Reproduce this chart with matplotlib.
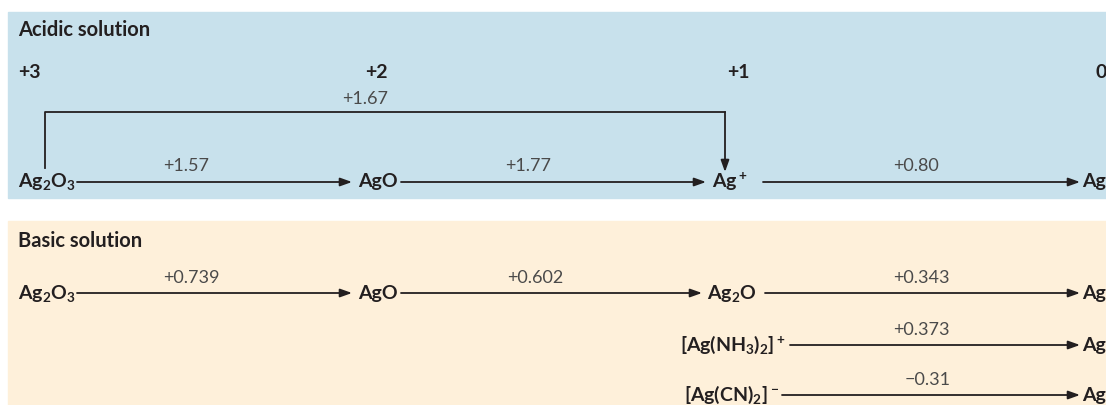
import matplotlib
matplotlib.use("Agg")
import matplotlib.pyplot as plt
from matplotlib.patches import Rectangle

plt.rcParams["font.family"] = ["Lato", "DejaVu Sans"]
plt.rcParams["mathtext.default"] = "regular"

# ---- data ----
ox_states = ["+3", "+2", "+1", "0"]

acid_species = ["Ag$_2$O$_3$", "AgO", "Ag$^+$", "Ag"]
acid_potentials = ["+1.57", "+1.77", "+0.80"]
acid_skip_potential = "+1.67"   # Ag2O3 -> Ag+

basic_species = ["Ag$_2$O$_3$", "AgO", "Ag$_2$O", "Ag"]
basic_potentials = ["+0.739", "+0.602", "+0.343"]

complex_species = ["[Ag(NH$_3$)$_2$]$^+$", "[Ag(CN)$_2$]$^-$"]
complex_potentials = ["+0.373", "\u22120.31"]

# ---- layout (pixels, y down) ----
W, H = 1106, 405
col_x = [18, 358, 712, 1082]
ox_x = [18, 365, 727, 1096]
acid_arrows = [(77, 352), (401, 706), (763, 1080)]
acid_label_x = [186, 528, 916]
basic_col_x = [18, 358, 707, 1082]
basic_arrows = [(77, 352), (401, 702), (765, 1080)]
basic_label_x = [191, 535, 921]
complex_right = [786, 779]
complex_arrows = [(790, 1080), (782, 1080)]
complex_label_x = [921, 928]

ink = "#231f20"
grey = "#4a4a4a"
fs_species = 14
fs_pot = 13

fig = plt.figure(figsize=(W / 100, H / 100), dpi=100)
ax = fig.add_axes([0, 0, 1, 1])
ax.set_xlim(0, W)
ax.set_ylim(H, 0)
ax.axis("off")

ax.add_patch(Rectangle((8, 12), W - 8, 186, color="#c8e1ec", zorder=0))
ax.add_patch(Rectangle((8, 221), W - 8, 190, color="#fef0da", zorder=0))


def arrow(x1, y1, x2, y2):
    ax.annotate("", xy=(x2, y2), xytext=(x1, y1),
                arrowprops=dict(arrowstyle="-|>,head_length=0.7,head_width=0.25",
                                lw=1.3, color=ink, shrinkA=0, shrinkB=0))


def species(x, y, s, ha="left"):
    ax.text(x, y, s, ha=ha, va="center", fontsize=fs_species, fontweight="bold", color=ink)


def pot(x, y, s):
    ax.text(x, y, s, ha="center", va="center", fontsize=fs_pot, color=grey)


# acidic
ax.text(18, 30, "Acidic solution", fontsize=14.5, fontweight="bold", color=ink, va="center")
for x, s in zip(ox_x, ox_states):
    ax.text(x, 73, s, fontsize=fs_species, fontweight="bold", color=ink, va="center")

row = 182
for x, s in zip(col_x, acid_species):
    species(x, row, s)
for (x1, x2), lx, p in zip(acid_arrows, acid_label_x, acid_potentials):
    arrow(x1, row, x2, row)
    pot(lx, row - 16, p)

ax.plot([45, 45, 725], [168, 112, 112], color=ink, lw=1.3)
arrow(725, 112, 725, 172)
pot(365, 99, acid_skip_potential)

# basic
ax.text(18, 241, "Basic solution", fontsize=14.5, fontweight="bold", color=ink, va="center")
row = 293
for x, s in zip(basic_col_x, basic_species):
    species(x, row, s)
for (x1, x2), lx, p in zip(basic_arrows, basic_label_x, basic_potentials):
    arrow(x1, row, x2, row)
    pot(lx, row - 15, p)

for i, (s, p) in enumerate(zip(complex_species, complex_potentials)):
    y = 345 + i * 50
    species(complex_right[i], y, s, ha="right")
    x1, x2 = complex_arrows[i]
    arrow(x1, y, x2, y)
    species(col_x[3], y, "Ag")
    pot(complex_label_x[i], y - 15, p)

fig.savefig("out.png", dpi=100)
